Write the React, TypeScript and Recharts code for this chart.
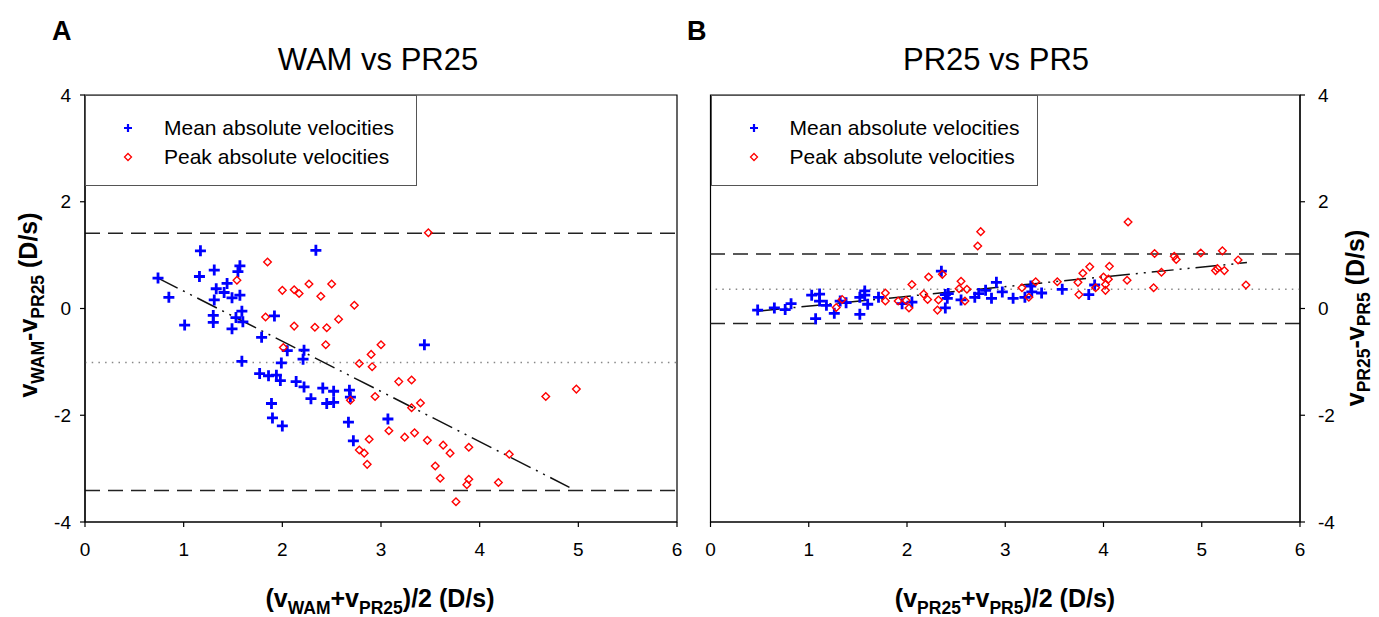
import { ScatterChart, Scatter, XAxis, YAxis, ReferenceLine, ReferenceArea, Legend } from 'recharts';

const FONT = '"Liberation Sans", Arial, Helvetica, sans-serif';

const xTicks = [0, 1, 2, 3, 4, 5, 6];
const yTicks = [-4, -2, 0, 2, 4];
const seriesNames = ['Mean absolute velocities', 'Peak absolute velocities'];

// panel A: WAM vs PR25
const meanA = [
  { x: 1.17, y: 1.08 }, { x: 2.34, y: 1.09 }, { x: 1.57, y: 0.8 }, { x: 1.55, y: 0.69 },
  { x: 1.31, y: 0.72 }, { x: 1.16, y: 0.6 }, { x: 0.74, y: 0.57 }, { x: 1.44, y: 0.47 },
  { x: 1.33, y: 0.37 }, { x: 1.41, y: 0.3 }, { x: 1.49, y: 0.2 }, { x: 1.57, y: 0.25 },
  { x: 0.85, y: 0.21 }, { x: 1.31, y: 0.16 }, { x: 1.59, y: -0.05 }, { x: 1.92, y: -0.14 },
  { x: 1.3, y: -0.13 }, { x: 1.53, y: -0.17 }, { x: 1.3, y: -0.26 }, { x: 1.6, y: -0.25 },
  { x: 1.01, y: -0.31 }, { x: 1.49, y: -0.38 }, { x: 1.79, y: -0.54 }, { x: 2.05, y: -0.79 },
  { x: 2.22, y: -0.78 }, { x: 2.21, y: -0.95 }, { x: 1.59, y: -0.99 }, { x: 1.99, y: -1.02 },
  { x: 1.77, y: -1.22 }, { x: 1.86, y: -1.26 }, { x: 1.94, y: -1.25 }, { x: 1.98, y: -1.35 },
  { x: 2.14, y: -1.37 }, { x: 2.22, y: -1.47 }, { x: 2.41, y: -1.49 }, { x: 2.52, y: -1.55 },
  { x: 2.68, y: -1.53 }, { x: 2.69, y: -1.66 }, { x: 2.29, y: -1.69 }, { x: 2.45, y: -1.78 },
  { x: 2.52, y: -1.76 }, { x: 1.89, y: -1.78 }, { x: 1.9, y: -2.05 }, { x: 2.0, y: -2.2 },
  { x: 2.67, y: -2.13 }, { x: 2.72, y: -2.48 }, { x: 3.07, y: -2.07 }, { x: 3.44, y: -0.68 },
];
const peakA = [
  { x: 1.85, y: 0.87 }, { x: 1.54, y: 0.53 }, { x: 2.0, y: 0.34 }, { x: 2.12, y: 0.35 },
  { x: 2.17, y: 0.28 }, { x: 2.27, y: 0.46 }, { x: 2.5, y: 0.46 }, { x: 2.39, y: 0.23 },
  { x: 2.73, y: 0.06 }, { x: 2.57, y: -0.2 }, { x: 1.83, y: -0.16 }, { x: 2.12, y: -0.33 },
  { x: 2.33, y: -0.35 }, { x: 2.45, y: -0.36 }, { x: 2.44, y: -0.68 }, { x: 2.01, y: -0.73 },
  { x: 3.0, y: -0.68 }, { x: 2.9, y: -0.86 }, { x: 2.78, y: -1.03 }, { x: 2.91, y: -1.09 },
  { x: 2.94, y: -1.65 }, { x: 2.69, y: -1.72 }, { x: 2.88, y: -2.45 }, { x: 2.78, y: -2.65 },
  { x: 2.83, y: -2.71 }, { x: 2.86, y: -2.92 }, { x: 3.48, y: 1.42 }, { x: 3.18, y: -1.37 },
  { x: 3.31, y: -1.34 }, { x: 3.4, y: -1.77 }, { x: 3.31, y: -1.86 }, { x: 3.08, y: -2.29 },
  { x: 3.24, y: -2.41 }, { x: 3.34, y: -2.33 }, { x: 3.47, y: -2.47 }, { x: 3.63, y: -2.56 },
  { x: 3.7, y: -2.71 }, { x: 3.89, y: -2.6 }, { x: 3.55, y: -2.95 }, { x: 3.6, y: -3.18 },
  { x: 3.89, y: -3.2 }, { x: 3.87, y: -3.3 }, { x: 4.19, y: -3.26 }, { x: 3.76, y: -3.62 },
  { x: 4.3, y: -2.73 }, { x: 4.67, y: -1.65 }, { x: 4.98, y: -1.51 },
];
const limitsA = { upper: 1.41, bias: -1.01, lower: -3.41 };
const regressionA = [{ x: 0.74, y: 0.57 }, { x: 4.91, y: -3.35 }];

// panel B: PR25 vs PR5
const meanB = [
  { x: 0.48, y: -0.03 }, { x: 0.65, y: 0.01 }, { x: 0.76, y: -0.02 }, { x: 0.82, y: 0.09 },
  { x: 1.03, y: 0.25 }, { x: 1.11, y: 0.27 }, { x: 1.11, y: 0.14 }, { x: 1.07, y: -0.19 },
  { x: 1.18, y: 0.06 }, { x: 1.26, y: -0.09 }, { x: 1.32, y: 0.14 }, { x: 1.38, y: 0.11 },
  { x: 1.52, y: 0.21 }, { x: 1.57, y: 0.33 }, { x: 1.57, y: 0.25 }, { x: 1.6, y: 0.08 },
  { x: 1.52, y: -0.11 }, { x: 1.71, y: 0.21 }, { x: 1.95, y: 0.09 }, { x: 2.05, y: 0.12 },
  { x: 2.35, y: 0.7 }, { x: 2.39, y: 0.26 }, { x: 2.42, y: 0.28 }, { x: 2.41, y: 0.19 },
  { x: 2.39, y: 0.01 }, { x: 2.55, y: 0.16 }, { x: 2.69, y: 0.21 }, { x: 2.73, y: 0.28 },
  { x: 2.8, y: 0.34 }, { x: 2.86, y: 0.19 }, { x: 2.91, y: 0.49 }, { x: 2.97, y: 0.31 },
  { x: 3.08, y: 0.19 }, { x: 3.2, y: 0.21 }, { x: 3.26, y: 0.42 }, { x: 3.27, y: 0.31 },
  { x: 3.37, y: 0.29 }, { x: 3.58, y: 0.36 }, { x: 3.85, y: 0.26 }, { x: 3.91, y: 0.44 },
];
const peakB = [
  { x: 1.28, y: 0.02 }, { x: 1.34, y: 0.17 }, { x: 1.78, y: 0.29 }, { x: 1.78, y: 0.14 },
  { x: 1.91, y: 0.14 }, { x: 1.99, y: 0.15 }, { x: 2.02, y: 0.01 }, { x: 2.05, y: 0.45 },
  { x: 2.17, y: 0.27 }, { x: 2.21, y: 0.17 }, { x: 2.22, y: 0.59 }, { x: 2.36, y: 0.64 },
  { x: 2.32, y: 0.16 }, { x: 2.31, y: -0.03 }, { x: 2.55, y: 0.51 }, { x: 2.53, y: 0.37 },
  { x: 2.61, y: 0.36 }, { x: 2.59, y: 0.14 }, { x: 2.72, y: 1.17 }, { x: 2.75, y: 1.44 },
  { x: 3.17, y: 0.39 }, { x: 3.24, y: 0.21 }, { x: 3.31, y: 0.5 }, { x: 3.53, y: 0.5 },
  { x: 3.74, y: 0.49 }, { x: 3.75, y: 0.26 }, { x: 3.79, y: 0.66 }, { x: 3.86, y: 0.78 },
  { x: 3.92, y: 0.39 }, { x: 4.0, y: 0.59 }, { x: 4.02, y: 0.45 }, { x: 4.02, y: 0.34 },
  { x: 4.05, y: 0.55 }, { x: 4.06, y: 0.79 }, { x: 4.24, y: 0.53 }, { x: 4.25, y: 1.62 },
  { x: 4.51, y: 0.39 }, { x: 4.52, y: 1.03 }, { x: 4.59, y: 0.68 }, { x: 4.72, y: 0.98 },
  { x: 4.74, y: 0.92 }, { x: 4.99, y: 1.04 }, { x: 5.21, y: 1.08 }, { x: 5.14, y: 0.71 },
  { x: 5.16, y: 0.75 }, { x: 5.23, y: 0.71 }, { x: 5.37, y: 0.91 }, { x: 5.45, y: 0.44 },
];
const limitsB = { upper: 1.02, bias: 0.36, lower: -0.28 };
const regressionB = [{ x: 0.48, y: -0.05 }, { x: 5.46, y: 0.86 }];

const Plus = (p: any) => {
  const { cx, cy } = p;
  if (cx == null || cy == null) return null;
  return (
    <path d={`M${cx - 5.5},${cy}H${cx + 5.5}M${cx},${cy - 5.5}V${cy + 5.5}`} stroke="#0000ff" strokeWidth={2.8} />
  );
};

const Diamond = (p: any) => {
  const { cx, cy } = p;
  if (cx == null || cy == null) return null;
  const r = 3.8;
  return (
    <path
      d={`M${cx},${cy - r}L${cx + r},${cy}L${cx},${cy + r}L${cx - r},${cy}Z`}
      fill="none"
      stroke="#ff0000"
      strokeWidth={1.4}
    />
  );
};

const LegendBox = ({ width }: { width: number }) => (
  <div
    style={{
      width,
      height: 91,
      boxSizing: 'border-box',
      border: '1px solid #555',
      background: '#fff',
      position: 'relative',
      fontFamily: FONT,
      fontSize: 21,
      color: '#000',
    }}
  >
    {seriesNames.map((n, i) => (
      <div key={n} style={{ position: 'absolute', left: 0, top: 20 + i * 29, height: 24, width: '100%' }}>
        <svg width={16} height={16} style={{ position: 'absolute', left: 34, top: 4 }}>
          {i === 0 ? (
            <path d="M4,8H12M8,4V12" stroke="#0000ff" strokeWidth={2.2} />
          ) : (
            <path d="M8,4.5L11.5,8L8,11.5L4.5,8Z" fill="none" stroke="#ff0000" strokeWidth={1.3} />
          )}
        </svg>
        <span style={{ position: 'absolute', left: 78, top: 0, lineHeight: '24px', whiteSpace: 'nowrap' }}>{n}</span>
      </div>
    ))}
  </div>
);

const tickStyle = { fill: '#000', fontSize: 19, fontFamily: FONT };
const axisStroke = { stroke: '#000', strokeWidth: 1.2 };

function Panel({
  mean, peak, limits, regression, right,
}: {
  mean: { x: number; y: number }[];
  peak: { x: number; y: number }[];
  limits: { upper: number; bias: number; lower: number };
  regression: { x: number; y: number }[];
  right: boolean;
}) {
  return (
    <ScatterChart
      width={right ? 679 : 700}
      height={617}
      margin={right ? { top: 95, right: 19, bottom: 65, left: 10.5 } : { top: 95, right: 23, bottom: 65, left: 25 }}
    >
      <XAxis
        type="number"
        dataKey="x"
        domain={[0, 6]}
        ticks={xTicks}
        interval={0}
        height={30}
        tickSize={5}
        tickMargin={16}
        axisLine={axisStroke}
        tickLine={axisStroke}
        tick={tickStyle}
      />
      <YAxis
        type="number"
        dataKey="y"
        domain={[-4, 4]}
        ticks={yTicks}
        interval={0}
        width={60}
        orientation={right ? 'right' : 'left'}
        tickSize={5}
        tickMargin={right ? 13 : 9}
        axisLine={axisStroke}
        tickLine={axisStroke}
        tick={tickStyle}
      />
      <ReferenceArea x1={0} x2={6} y1={-4} y2={4} fill="none" fillOpacity={0} stroke="#000" strokeWidth={1.2} />
      <ReferenceLine y={limits.upper} stroke="#222" strokeWidth={1.5} strokeDasharray="15 8" />
      <ReferenceLine y={limits.lower} stroke="#222" strokeWidth={1.5} strokeDasharray="15 8" />
      <ReferenceLine y={limits.bias} stroke="#888" strokeWidth={1.5} strokeDasharray="1.5 5.2" />
      <ReferenceLine
        segment={regression}
        stroke="#111"
        strokeWidth={1.5}
        strokeDasharray="22 6 2 6 2 6"
      />
      <Scatter name={seriesNames[0]} data={mean} shape={Plus} isAnimationActive={false} />
      <Scatter name={seriesNames[1]} data={peak} shape={Diamond} isAnimationActive={false} />
      <Legend
        layout="horizontal"
        verticalAlign="middle"
        align="center"
        content={() => <LegendBox width={right ? 327 : 332} />}
        wrapperStyle={{ position: 'absolute', left: right ? 10.5 : 85, top: 95, width: right ? 327 : 332, height: 91 }}
      />
    </ScatterChart>
  );
}

const SUB = { fontSize: 17.5 };

export default function App() {
  return (
    <div style={{ position: 'absolute', left: 0, top: 0, width: 1379, height: 617, background: '#fff', overflow: 'hidden' }}>
      <div style={{ position: 'absolute', left: 0, top: 0 }}>
        <Panel mean={meanA} peak={peakA} limits={limitsA} regression={regressionA} right={false} />
      </div>
      <div style={{ position: 'absolute', left: 700, top: 0 }}>
        <Panel mean={meanB} peak={peakB} limits={limitsB} regression={regressionB} right />
      </div>
      <svg width={1379} height={617} style={{ position: 'absolute', left: 0, top: 0, pointerEvents: 'none' }} fontFamily={FONT}>
        <text x={52} y={40} fontSize={27} fontWeight="bold">A</text>
        <text x={687} y={40} fontSize={27} fontWeight="bold">B</text>
        <text x={378} y={70} fontSize={31} textAnchor="middle">WAM vs PR25</text>
        <text x={996} y={70} fontSize={31} textAnchor="middle">PR25 vs PR5</text>
        <text x={380} y={607} fontSize={25} fontWeight="bold" textAnchor="middle">
          (v<tspan {...SUB} dy={7}>WAM</tspan><tspan dy={-7}>+v</tspan><tspan {...SUB} dy={7}>PR25</tspan><tspan dy={-7}>)/2 (D/s)</tspan>
        </text>
        <text x={1005} y={607} fontSize={25} fontWeight="bold" textAnchor="middle">
          (v<tspan {...SUB} dy={7}>PR25</tspan><tspan dy={-7}>+v</tspan><tspan {...SUB} dy={7}>PR5</tspan><tspan dy={-7}>)/2 (D/s)</tspan>
        </text>
        <text transform="translate(37,305) rotate(-90)" fontSize={25} fontWeight="bold" textAnchor="middle">
          v<tspan {...SUB} dy={7}>WAM</tspan><tspan dy={-7}>-v</tspan><tspan {...SUB} dy={7}>PR25</tspan><tspan dy={-7}> (D/s)</tspan>
        </text>
        <text transform="translate(1364,318) rotate(-90)" fontSize={25} fontWeight="bold" textAnchor="middle">
          v<tspan {...SUB} dy={6}>PR25</tspan><tspan dy={-6}>-v</tspan><tspan {...SUB} dy={6}>PR5</tspan><tspan dy={-6}> (D/s)</tspan>
        </text>
      </svg>
    </div>
  );
}
